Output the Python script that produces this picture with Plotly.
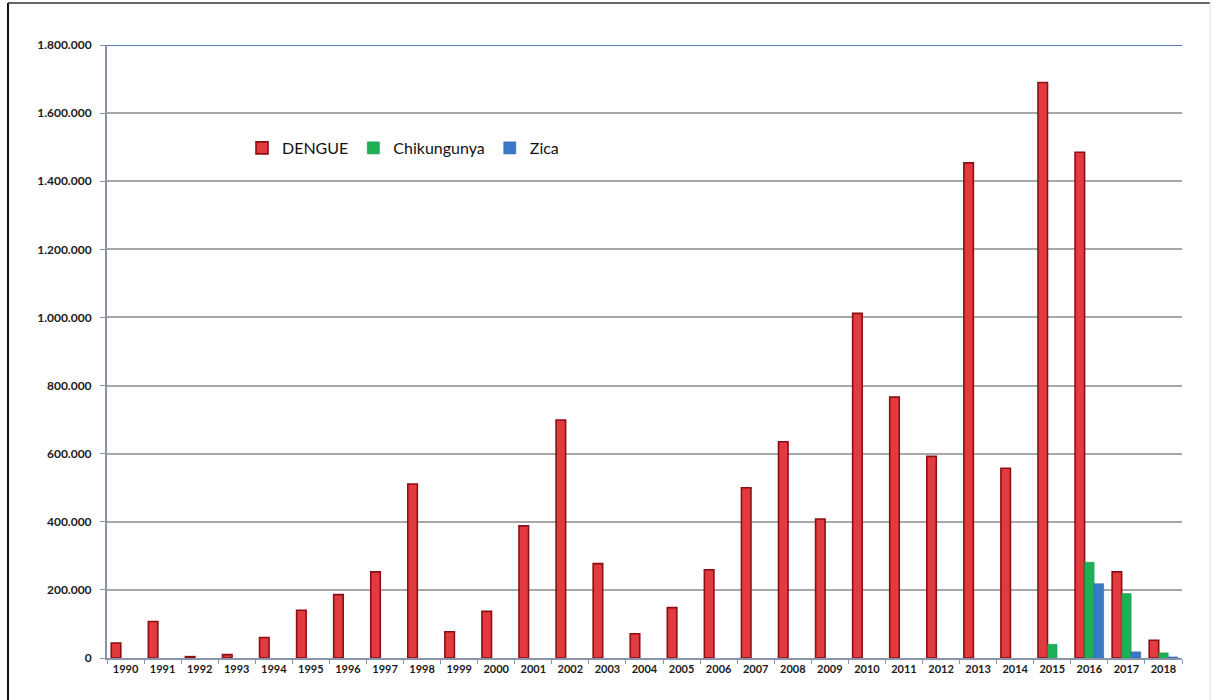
import plotly.graph_objects as go

# Notified cases per year
years = [str(y) for y in range(1990, 2019)]

dengue = [44000, 107000, 4000, 10000, 60000, 140000, 186000, 253000, 511000, 77000,
          137000, 388000, 699000, 277000, 71000, 148000, 259000, 500000, 635000, 408000,
          1012000, 766000, 592000, 1454000, 557000, 1690000, 1485000, 253000, 52000]

chikungunya = [None] * 25 + [40000, 281000, 189000, 15000]
zica = [None] * 26 + [218000, 18000, 3000]

series_names = ["DENGUE", "Chikungunya", "Zica"]

W, H = 1212, 700
ML, MR, MT, MB = 107, 30, 45, 42

fig = go.Figure()

fig.add_trace(go.Bar(
    x=years, y=dengue, name=series_names[0],
    marker=dict(color="#e23b3f", line=dict(color="#8c0f14", width=1.6)),
))
fig.add_trace(go.Bar(
    x=years, y=chikungunya, name=series_names[1],
    marker=dict(color="#1db056", line=dict(color="#16994a", width=0.6)),
))
fig.add_trace(go.Bar(
    x=years, y=zica, name=series_names[2],
    marker=dict(color="#3c78c8", line=dict(color="#2d62a8", width=0.6)),
))

def px_x(px):
    return (px - ML) / (W - ML - MR)

def px_y(py):
    return (H - MB - py) / (H - MT - MB)

shapes = [
    # top boundary line of the value axis
    dict(type="line", xref="paper", yref="y", x0=0, x1=1, y0=1800000, y1=1800000,
         line=dict(color="#5877aa", width=2), layer="below"),
    # outer frame
    dict(type="line", xref="paper", yref="paper", x0=px_x(8), x1=px_x(8),
         y0=px_y(3), y1=px_y(700), line=dict(color="#111111", width=2)),
    dict(type="line", xref="paper", yref="paper", x0=px_x(8), x1=px_x(1210),
         y0=px_y(3), y1=px_y(3), line=dict(color="#333333", width=1.5)),
    dict(type="line", xref="paper", yref="paper", x0=px_x(1210), x1=px_x(1210),
         y0=px_y(3), y1=px_y(700), line=dict(color="#dddddd", width=1)),
]

fig.update_layout(
    width=W, height=H,
    margin=dict(l=ML, r=MR, t=MT, b=MB),
    paper_bgcolor="white", plot_bgcolor="white",
    barmode="group", bargap=0.23, bargroupgap=0,
    separators=",.",
    font=dict(family="Lato, Carlito, Arial, sans-serif", color="#1a1a1a"),
    showlegend=True,
    legend=dict(
        orientation="h", x=px_x(242), y=px_y(131), xanchor="left", yanchor="top",
        font=dict(size=16, family="Lato, Carlito, Arial, sans-serif", color="#111111"),
        itemwidth=30, bgcolor="rgba(0,0,0,0)", traceorder="normal",
    ),
    shapes=shapes,
    xaxis=dict(
        type="category", showgrid=False, showline=True, linecolor="#8794aa", linewidth=2,
        ticks="outside", tickson="boundaries", ticklen=4, tickcolor="#8794aa",
        tickfont=dict(size=11, weight="bold", color="#1a1a1a"),
        fixedrange=True,
    ),
    yaxis=dict(
        range=[0, 1800000], dtick=200000, tickformat=",d",
        showgrid=True, gridcolor="#a8a8a8", gridwidth=1.5,
        showline=True, linecolor="#8794aa", linewidth=2,
        ticks="outside", ticklen=5, tickcolor="#8794aa", ticklabelstandoff=6,
        tickfont=dict(size=12, weight="bold", color="#1a1a1a"),
        zeroline=False, fixedrange=True,
    ),
)

fig.write_html("out.html")
